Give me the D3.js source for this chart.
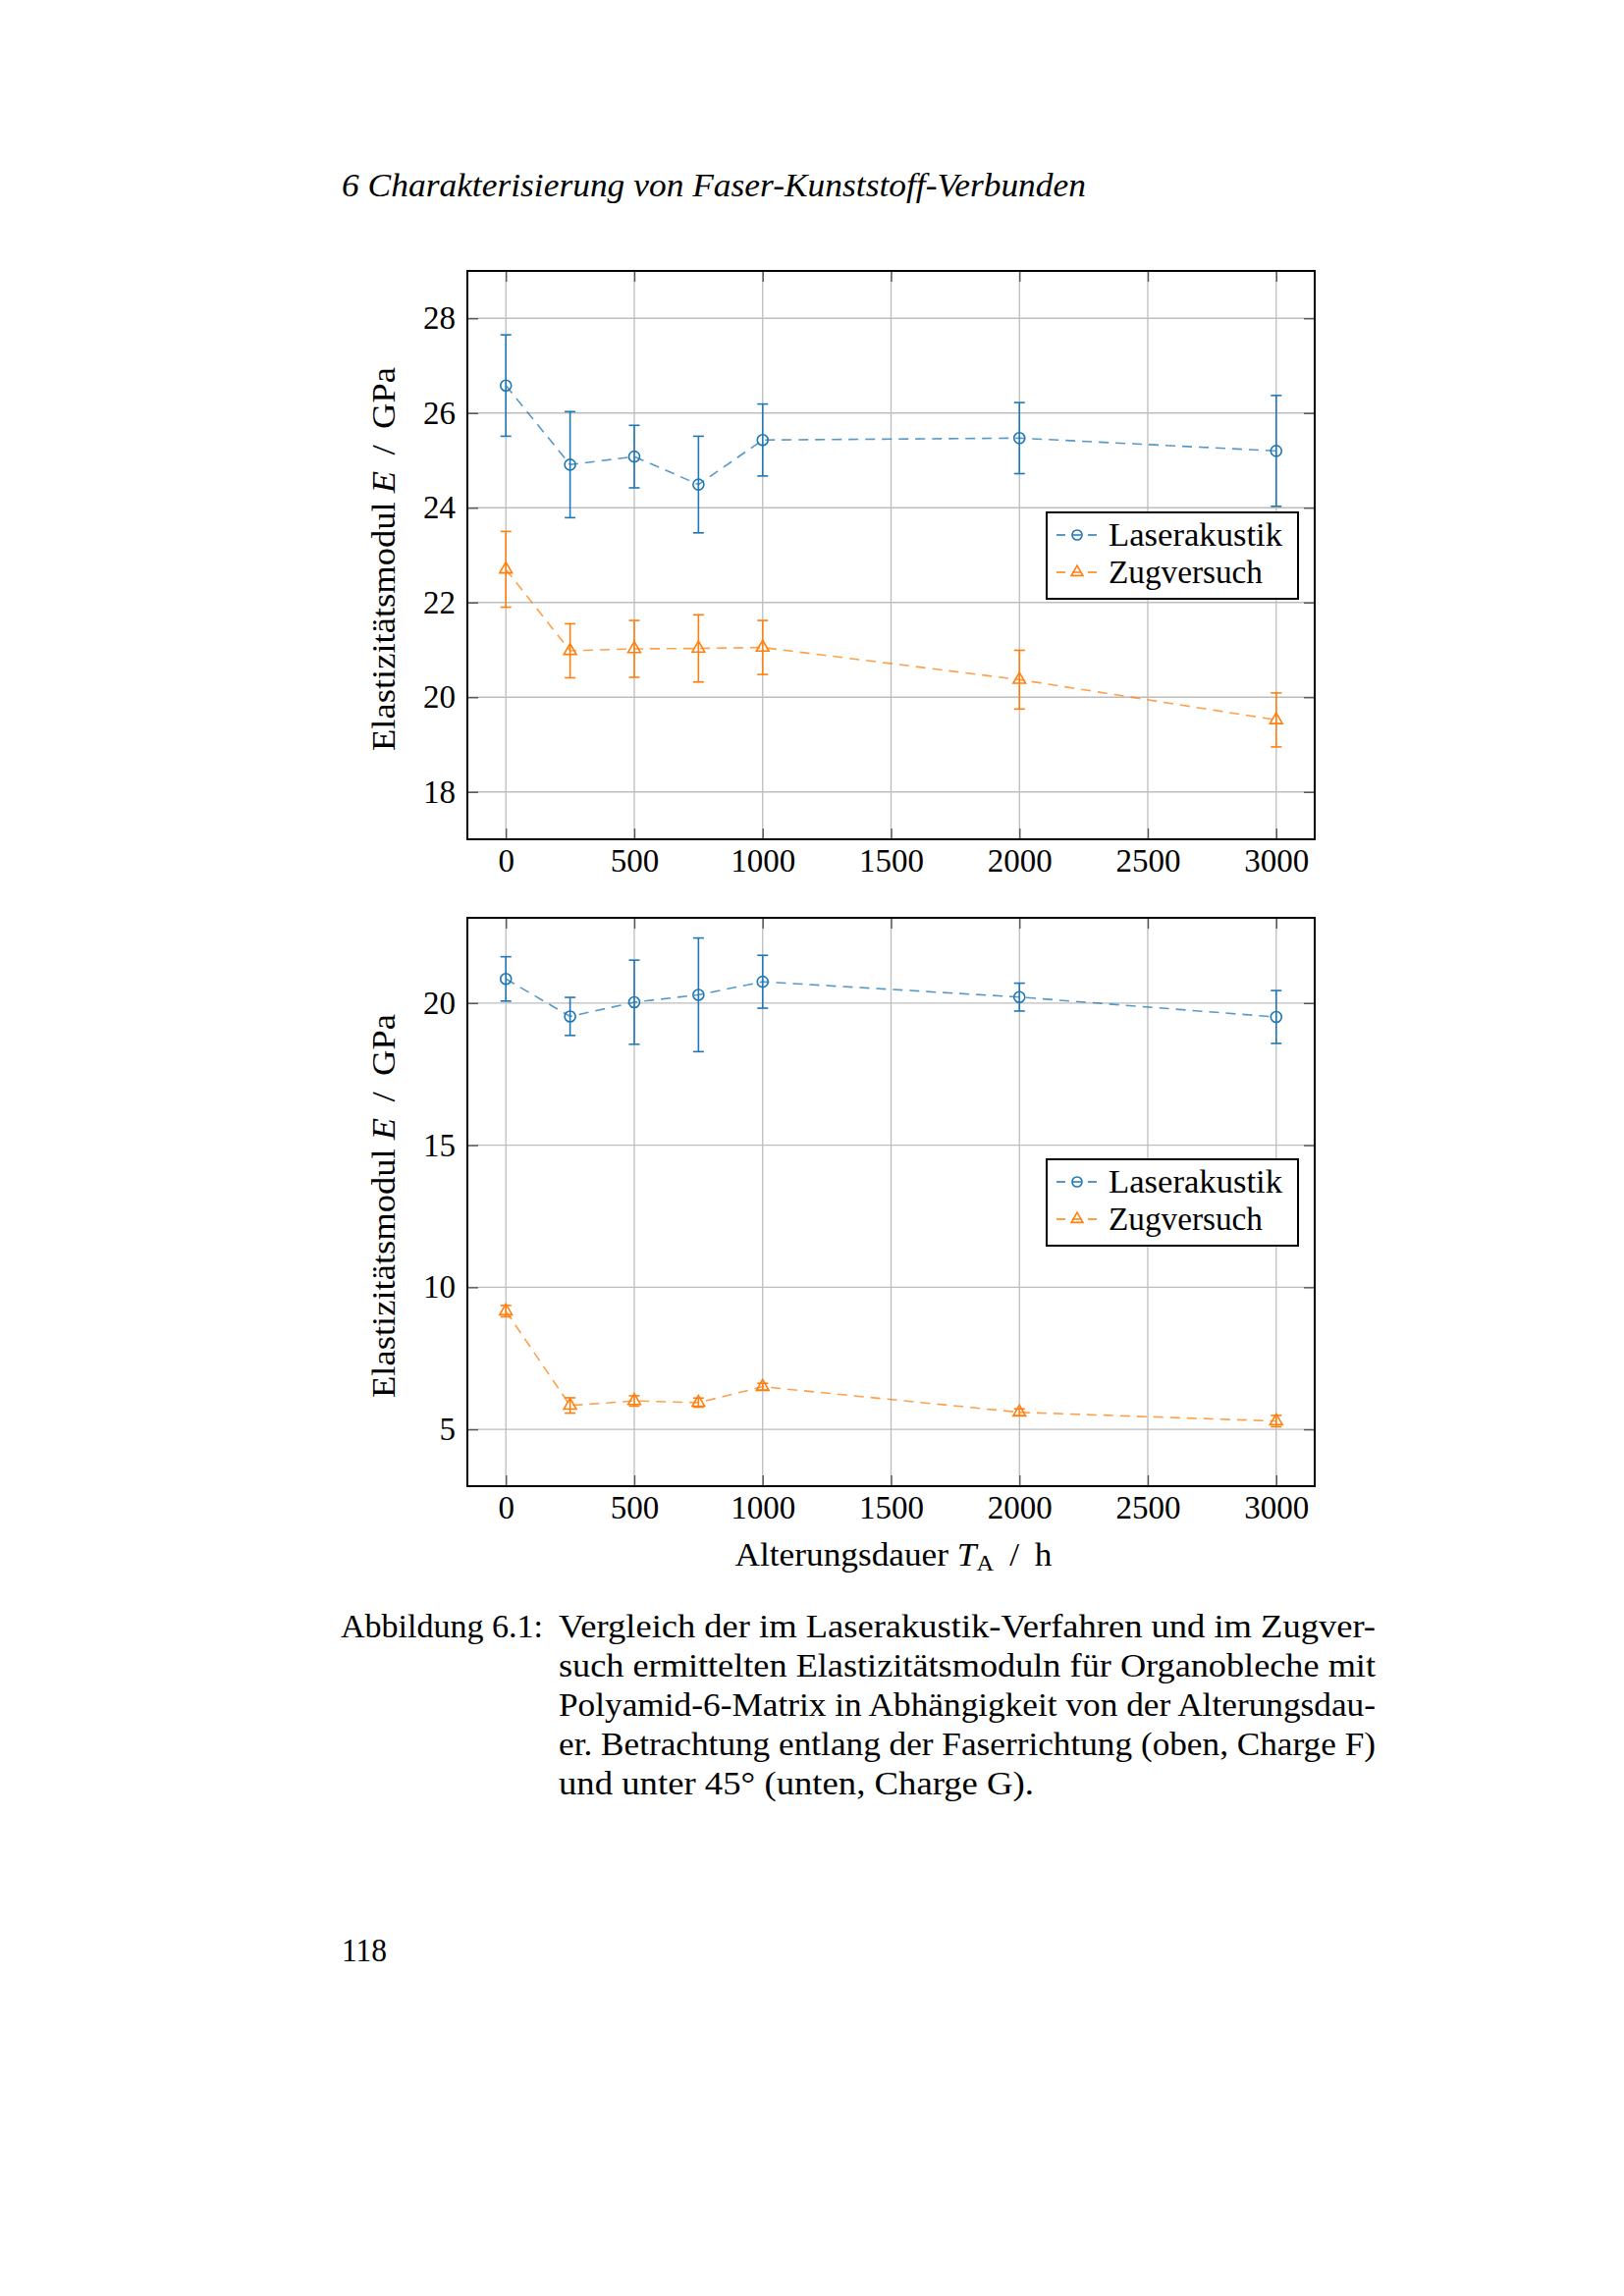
<!DOCTYPE html>
<html>
<head>
<meta charset="utf-8">
<script src="https://cdn.jsdelivr.net/npm/d3@7"></script>
<style>
  body { margin: 0; background: #fff; }
  svg { display: block; }
  svg text { font-family: "Liberation Serif", "Times New Roman", serif !important; fill: #000; }
</style>
</head>
<body>
<svg id="page"></svg>
<script>
// data
const agingHours = [0, 250, 500, 750, 1000, 2000, 3000];
const xTicks = [0, 500, 1000, 1500, 2000, 2500, 3000];

// oben, Charge F (Faserrichtung)
const laserF = [26.58, 24.91, 25.08, 24.49, 25.43, 25.47, 25.20];
const laserFErr = [1.07, 1.12, 0.66, 1.02, 0.76, 0.75, 1.17];
const zugF = [22.70, 20.98, 21.02, 21.03, 21.05, 20.37, 19.52];
const zugFErr = [0.80, 0.57, 0.60, 0.71, 0.57, 0.62, 0.57];
const yTicksF = [18, 20, 22, 24, 26, 28];

// unten, Charge G (45°)
const laserG = [20.85, 19.53, 20.03, 20.29, 20.75, 20.21, 19.51];
const laserGErr = [0.78, 0.67, 1.48, 2.00, 0.93, 0.49, 0.93];
const zugG = [9.16, 5.84, 6.00, 5.94, 6.50, 5.60, 5.29];
const zugGErr = [0.20, 0.27, 0.18, 0.16, 0.12, 0.12, 0.20];
const yTicksG = [5, 10, 15, 20];

const seriesNames = ["Laserakustik", "Zugversuch"];
const legendWidths = [177, 157];
const colors = ["#1f77b4", "#ff7f0e"];

const W = 1654, H = 2339;
const svg = d3.select("#page").attr("width", W).attr("height", H);

const left = 476, right = 1339;
const x = d3.scaleLinear().domain([-150, 3150]).range([left, right]);

const zip = (v, e) => agingHours.map((h, i) => ({ h: h, v: v[i], e: e[i] }));

const drawPanel = (top, bottom, yDomain, yTicks, series) => {
  const y = d3.scaleLinear().domain(yDomain).range([bottom, top]);
  const g = svg.append("g");

  // grid
  g.append("g").selectAll("line").data(xTicks).join("line")
    .attr("x1", d => x(d)).attr("x2", d => x(d))
    .attr("y1", top).attr("y2", bottom)
    .attr("stroke", "#bdbdbd").attr("stroke-width", 1.3);
  g.append("g").selectAll("line").data(yTicks).join("line")
    .attr("x1", left).attr("x2", right)
    .attr("y1", d => y(d)).attr("y2", d => y(d))
    .attr("stroke", "#bdbdbd").attr("stroke-width", 1.3);

  // axes with inward ticks
  const ax = (sel) => {
    sel.attr("font-family", null).attr("font-size", null);
    sel.select(".domain").remove();
    sel.selectAll(".tick line").attr("stroke", "#555").attr("stroke-width", 1.4);
    sel.selectAll("text").attr("font-size", 33);
  };
  g.append("g").attr("transform", `translate(0,${bottom})`)
    .call(d3.axisBottom(x).tickValues(xTicks).tickSize(-11).tickPadding(10).tickFormat(d3.format("d")))
    .call(ax);
  g.append("g").attr("transform", `translate(0,${top})`)
    .call(d3.axisTop(x).tickValues(xTicks).tickSize(-11).tickFormat(""))
    .call(ax);
  g.append("g").attr("transform", `translate(${left},0)`)
    .call(d3.axisLeft(y).tickValues(yTicks).tickSize(-11).tickPadding(12).tickFormat(d3.format("d")))
    .call(ax);
  g.append("g").attr("transform", `translate(${right},0)`)
    .call(d3.axisRight(y).tickValues(yTicks).tickSize(-11).tickFormat(""))
    .call(ax);

  const line = d3.line().x(d => x(d.h)).y(d => y(d.v));

  series.forEach((s, k) => {
    const c = colors[k];
    const sg = g.append("g");
    sg.append("path").datum(s).attr("d", line)
      .attr("fill", "none").attr("stroke", c).attr("stroke-opacity", 0.75)
      .attr("stroke-width", 1.6).attr("stroke-dasharray", "10,7");
    const eb = sg.append("g").selectAll("g").data(s).join("g")
      .attr("stroke", c).attr("stroke-width", 1.6);
    eb.append("line").attr("x1", d => x(d.h)).attr("x2", d => x(d.h))
      .attr("y1", d => y(d.v - d.e)).attr("y2", d => y(d.v + d.e));
    eb.append("line").attr("x1", d => x(d.h) - 5.5).attr("x2", d => x(d.h) + 5.5)
      .attr("y1", d => y(d.v + d.e)).attr("y2", d => y(d.v + d.e));
    eb.append("line").attr("x1", d => x(d.h) - 5.5).attr("x2", d => x(d.h) + 5.5)
      .attr("y1", d => y(d.v - d.e)).attr("y2", d => y(d.v - d.e));
    const sym = d3.symbol().type(k === 0 ? d3.symbolCircle : d3.symbolTriangle).size(k === 0 ? 95 : 70);
    sg.append("g").selectAll("path").data(s).join("path")
      .attr("transform", d => `translate(${x(d.h)},${y(d.v)})`)
      .attr("d", sym).attr("fill", "none").attr("stroke", c).attr("stroke-width", 1.6);
  });

  // frame
  g.append("rect").attr("x", left).attr("y", top)
    .attr("width", right - left).attr("height", bottom - top)
    .attr("fill", "none").attr("stroke", "#000").attr("stroke-width", 2);

  // legend
  const lx = right - 17 - 256, ly = top + 246;
  const lg = g.append("g").attr("transform", `translate(${lx},${ly})`);
  lg.append("rect").attr("width", 256).attr("height", 88)
    .attr("fill", "#fff").attr("stroke", "#000").attr("stroke-width", 2);
  seriesNames.forEach((n, k) => {
    const cy = 23 + k * 38;
    lg.append("line").attr("x1", 9).attr("x2", 51).attr("y1", cy).attr("y2", cy)
      .attr("stroke", colors[k]).attr("stroke-width", 1.6).attr("stroke-dasharray", "9,7").attr("stroke-dashoffset", -1);
    lg.append("path").attr("transform", `translate(31,${cy})`)
      .attr("d", d3.symbol().type(k === 0 ? d3.symbolCircle : d3.symbolTriangle).size(k === 0 ? 80 : 60))
      .attr("fill", "none").attr("stroke", colors[k]).attr("stroke-width", 1.6);
    lg.append("text").attr("x", 63).attr("y", cy + 11).attr("font-size", 34)
      .attr("textLength", legendWidths[k]).attr("lengthAdjust", "spacingAndGlyphs").text(n);
  });

  // y label
  const yl = svg.append("text")
    .attr("transform", `translate(402,${(top + bottom) / 2 + 4}) rotate(-90)`)
    .attr("text-anchor", "middle").attr("font-size", 33)
    .attr("textLength", 391).attr("lengthAdjust", "spacingAndGlyphs");
  yl.append("tspan").text("Elastizitätsmodul ");
  yl.append("tspan").attr("font-style", "italic").text("E");
  yl.append("tspan").text(" \u2009/\u2009 GPa");
};

drawPanel(276, 855, [17, 29], yTicksF, [zip(laserF, laserFErr), zip(zugF, zugFErr)]);
drawPanel(935, 1514, [3, 23], yTicksG, [zip(laserG, laserGErr), zip(zugG, zugGErr)]);

// x label
const xl = svg.append("text").attr("x", 910).attr("y", 1595)
  .attr("text-anchor", "middle").attr("font-size", 33)
  .attr("textLength", 323).attr("lengthAdjust", "spacingAndGlyphs");
xl.append("tspan").text("Alterungsdauer ");
xl.append("tspan").attr("font-style", "italic").text("T");
xl.append("tspan").attr("font-size", 23).attr("dy", 5).text("A");
xl.append("tspan").attr("dy", -5).text(" \u2009/\u2009 h");

// running head
svg.append("text").attr("x", 348).attr("y", 200)
  .attr("font-size", 33).attr("font-style", "italic")
  .attr("textLength", 758).attr("lengthAdjust", "spacingAndGlyphs")
  .text("6  Charakterisierung von Faser-Kunststoff-Verbunden");

// caption
const capLines = [
  "Vergleich der im Laserakustik-Verfahren und im Zugver-",
  "such ermittelten Elastizitätsmoduln für Organobleche mit",
  "Polyamid-6-Matrix in Abhängigkeit von der Alterungsdau-",
  "er. Betrachtung entlang der Faserrichtung (oben, Charge F)",
  "und unter 45° (unten, Charge G)."
];
const capWidths = [832, 832, 832, 832, 484];
svg.append("text").attr("x", 347).attr("y", 1668).attr("font-size", 33)
  .attr("textLength", 206).attr("lengthAdjust", "spacingAndGlyphs")
  .text("Abbildung 6.1:");
capLines.forEach((t, i) => {
  svg.append("text").attr("x", 569).attr("y", 1668 + i * 40)
    .attr("font-size", 33).attr("textLength", capWidths[i])
    .attr("lengthAdjust", "spacingAndGlyphs").text(t);
});

// page number
svg.append("text").attr("x", 348).attr("y", 1998).attr("font-size", 33)
  .attr("textLength", 46).attr("lengthAdjust", "spacingAndGlyphs").text("118");
</script>
</body>
</html>
